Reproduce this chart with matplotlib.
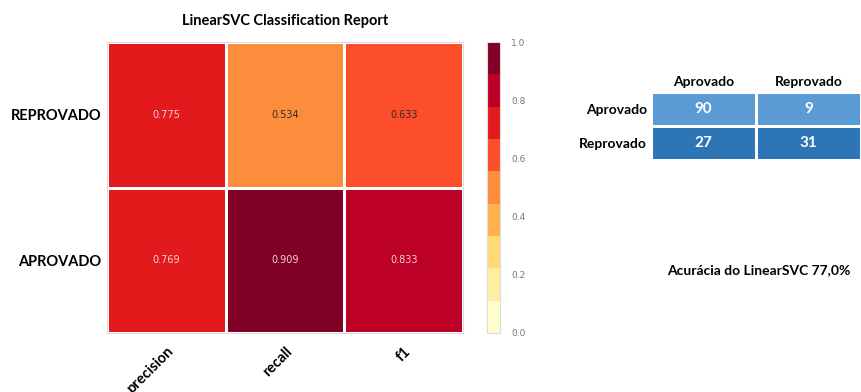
import numpy as np
import matplotlib
matplotlib.use("Agg")
import matplotlib.pyplot as plt
from matplotlib.colors import ListedColormap, BoundaryNorm

# classification report values (rows top -> bottom)
classes = ["REPROVADO", "APROVADO"]
metrics = ["precision", "recall", "f1"]
scores = np.array([[0.775, 0.534, 0.633],
                   [0.769, 0.909, 0.833]])

# confusion matrix table
cm_labels = ["Aprovado", "Reprovado"]
cm_values = np.array([[90, 9],
                      [27, 31]])
accuracy_text = "Acurácia do LinearSVC 77,0%"

W, H = 861, 392
fig = plt.figure(figsize=(W / 100, H / 100), dpi=100)
fig.patch.set_facecolor("white")

def box(x0, y0, x1, y1):
    return [x0 / W, 1 - y1 / H, (x1 - x0) / W, (y1 - y0) / H]

lab_font = "Lato"

# heatmap
ylorrd = ["#ffffcc", "#ffeda0", "#fed976", "#feb24c", "#fd8d3c",
          "#fc4e2a", "#e31a1c", "#bd0026", "#800026"]
cmap = ListedColormap(ylorrd)
norm = BoundaryNorm(np.linspace(0, 1, len(ylorrd) + 1), cmap.N)

ax = fig.add_axes(box(107, 42, 463, 333))
mesh = ax.pcolormesh(scores, cmap=cmap, norm=norm, edgecolors="white", linewidth=1.0)
ax.set_xlim(0, len(metrics))
ax.set_ylim(len(classes), 0)
for i in range(len(classes)):
    for j in range(len(metrics)):
        v = scores[i, j]
        c = "#f2d0d6" if v > 0.7 else "#3a2a20"
        ax.text(j + 0.5, i + 0.5, f"{v:.3f}", ha="center", va="center",
                fontsize=7, color=c)
ax.set_xticks(np.arange(len(metrics)) + 0.5)
ax.set_xticklabels(metrics, rotation=45, ha="right", rotation_mode="anchor",
                   fontsize=10.5, fontweight="bold", family=lab_font)
ax.set_yticks(np.arange(len(classes)) + 0.5)
ax.set_yticklabels(classes, fontsize=10.5, fontweight="bold", family=lab_font)
ax.tick_params(length=0, pad=4)
ax.tick_params(axis="x", pad=8)
for s in ax.spines.values():
    s.set_color("#dddddd")
ax.set_title("LinearSVC Classification Report", fontsize=10.5, fontweight="bold",
             family=lab_font, pad=12)

# colorbar
cax = fig.add_axes(box(487, 42, 500, 333))
cb = fig.colorbar(mesh, cax=cax, ticks=np.arange(0, 1.01, 0.2))
cb.ax.minorticks_off()
cb.ax.set_yticklabels([f"{t:.1f}" for t in np.arange(0, 1.01, 0.2)])
cb.ax.tick_params(which="both", length=0, labelsize=6.5, labelcolor="#777777", pad=8)
cb.outline.set_edgecolor("#dddddd")

# confusion matrix table
tax = fig.add_axes(box(651, 92, 861, 160))
rows = np.array([[0, 0], [1, 1]])
tax.pcolormesh(rows, cmap=ListedColormap(["#5b9bd5", "#2e75b6"]),
               edgecolors="white", linewidth=2)
tax.set_xlim(0, 2)
tax.set_ylim(2, 0)
for i in range(2):
    for j in range(2):
        tax.text(j + 0.5, i + 0.5, str(cm_values[i, j]), ha="center", va="center",
                 color="white", fontsize=11, fontweight="bold", family=lab_font)
tax.set_xticks([0.5, 1.5])
tax.set_xticklabels(cm_labels, fontsize=10, fontweight="bold", family=lab_font)
tax.xaxis.tick_top()
tax.set_yticks([0.5, 1.5])
tax.set_yticklabels(cm_labels, fontsize=10, fontweight="bold", family=lab_font)
tax.tick_params(length=0, pad=3)
for s in tax.spines.values():
    s.set_visible(False)

fig.text(759 / W, 1 - 270 / H, accuracy_text, ha="center", va="center",
         fontsize=10, fontweight="bold", family=lab_font)

fig.savefig("out.png", dpi=100)
